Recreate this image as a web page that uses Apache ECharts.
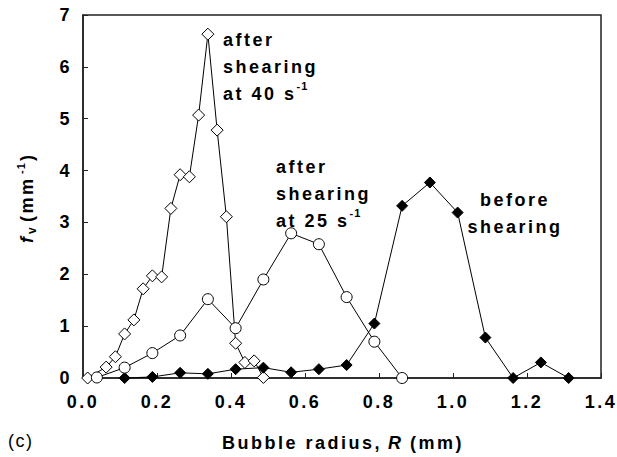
<!DOCTYPE html>
<html>
<head>
<meta charset="utf-8">
<script src="https://cdn.jsdelivr.net/npm/echarts@6/dist/echarts.min.js"></script>
<style>
html,body{margin:0;padding:0;background:#fff;}
#chart{width:617px;height:457px;}
#chart text{letter-spacing:2.5px;}
</style>
</head>
<body>
<div id="chart"></div>
<script>
// Bubble radius R (mm) and volume fraction density f_v (mm^-1)
const r40 = [0.0125, 0.0625, 0.0875, 0.1125, 0.1375, 0.1625, 0.1875, 0.2125, 0.2375, 0.2625, 0.2875, 0.3125, 0.3375, 0.3625, 0.3875, 0.4125, 0.4375, 0.4625, 0.4875];
const f40 = [0.00, 0.21, 0.41, 0.85, 1.12, 1.72, 1.97, 1.95, 3.27, 3.92, 3.88, 5.07, 6.63, 4.78, 3.11, 0.67, 0.30, 0.33, 0.01];
const r25 = [0.0375, 0.1125, 0.1875, 0.2625, 0.3375, 0.4125, 0.4875, 0.5625, 0.6375, 0.7125, 0.7875, 0.8625];
const f25 = [0.01, 0.20, 0.48, 0.82, 1.52, 0.96, 1.90, 2.79, 2.58, 1.56, 0.70, 0.00];
const r0 = [0.1125, 0.1875, 0.2625, 0.3375, 0.4125, 0.4875, 0.5625, 0.6375, 0.7125, 0.7875, 0.8625, 0.9375, 1.0125, 1.0875, 1.1625, 1.2375, 1.3125];
const f0 = [0.00, 0.02, 0.10, 0.08, 0.17, 0.20, 0.11, 0.17, 0.25, 1.05, 3.32, 3.77, 3.19, 0.78, 0.00, 0.30, 0.00];
const xTicks = [0.0, 0.2, 0.4, 0.6, 0.8, 1.0, 1.2, 1.4];
const yTicks = [0, 1, 2, 3, 4, 5, 6, 7];

const FONT = "'Liberation Sans', Arial, sans-serif";
const L = 2.5; // letter spacing px (applied via CSS to SVG text)
const zip = (xs, ys) => xs.map((x, i) => [x, ys[i]]);

const chart = echarts.init(document.getElementById('chart'), null, {renderer: 'svg'});
const axisCommon = {
  axisLine: {show: true, lineStyle: {color: '#222', width: 1.5}},
  axisTick: {show: true, inside: true, length: 5, lineStyle: {color: '#222', width: 1}},
  splitLine: {show: false}
};
const bold = 'bold 18px ' + FONT;
const txt = (o) => Object.assign({type: 'text', z: 100}, o);
const supRich = {sup: {fontFamily: FONT, fontWeight: 'bold', fontSize: 11, fill: '#000', color: '#000', verticalAlign: 'top', lineHeight: 14, padding: [0, 0, 0, 7 * L]}};
const R90 = Math.PI / 2;
const option = {
  animation: false,
  backgroundColor: '#fff',
  grid: {left: 83, right: 16, top: 15, bottom: 79, show: true, borderColor: '#222', borderWidth: 1.5, backgroundColor: 'transparent'},
  xAxis: Object.assign({
    type: 'value', min: xTicks[0], max: xTicks[xTicks.length - 1], interval: 0.2,
    axisLabel: {margin: 15, color: '#000', fontFamily: FONT, fontWeight: 'bold', fontSize: 18, formatter: v => v.toFixed(1)}
  }, axisCommon),
  yAxis: Object.assign({
    type: 'value', min: yTicks[0], max: yTicks[yTicks.length - 1], interval: 1,
    axisLabel: {margin: 11, color: '#000', fontFamily: FONT, fontWeight: 'bold', fontSize: 18}
  }, axisCommon),
  graphic: [
    // annotations
    txt({left: 223, top: 26, style: {text: 'after\nshearing\nat 40 s{sup|-1}', fill: '#000', font: bold, lineHeight: 27, rich: supRich}}),
    txt({left: 276, top: 153, style: {text: 'after\nshearing\nat 25 s{sup|-1}', fill: '#000', font: bold, lineHeight: 27, rich: supRich}}),
    txt({x: 515, y: 186, style: {text: 'before\nshearing', fill: '#000', font: bold, lineHeight: 27, align: 'center', verticalAlign: 'top'}}),
    // x axis title: Bubble radius, R (mm)
    txt({x: 222, y: 443, style: {text: 'Bubble radius,', fill: '#000', font: bold, align: 'left', verticalAlign: 'middle'}}),
    txt({x: 388, y: 443, style: {text: 'R', fill: '#000', font: 'italic bold 18px ' + FONT, align: 'left', verticalAlign: 'middle'}}),
    txt({x: 410, y: 443, style: {text: '(mm)', fill: '#000', font: bold, align: 'left', verticalAlign: 'middle'}}),
    // y axis title: f_v (mm^-1), rotated
    txt({x: 27, y: 243, rotation: R90, style: {text: 'f', fill: '#000', font: 'italic bold 18px ' + FONT, align: 'left', verticalAlign: 'middle'}}),
    txt({x: 32, y: 234, rotation: R90, style: {text: 'v', fill: '#000', font: 'bold 12px ' + FONT, align: 'left', verticalAlign: 'middle'}}),
    txt({x: 27, y: 222, rotation: R90, style: {text: '(mm', fill: '#000', font: bold, align: 'left', verticalAlign: 'middle'}}),
    txt({x: 21, y: 174, rotation: R90, style: {text: '-1', fill: '#000', font: 'bold 11px ' + FONT, align: 'left', verticalAlign: 'middle'}}),
    txt({x: 27, y: 161, rotation: R90, style: {text: ')', fill: '#000', font: bold, align: 'left', verticalAlign: 'middle'}}),
    // panel label
    txt({x: 8, y: 441, style: {text: '(c)', fill: '#000', font: '18px ' + FONT, align: 'left', verticalAlign: 'middle'}})
  ],
  series: [
    {
      name: 'after shearing at 40 s-1', type: 'line', data: zip(r40, f40), clip: false,
      symbol: 'diamond', symbolSize: 12, z: 3,
      lineStyle: {color: '#000', width: 1},
      itemStyle: {color: '#fff', borderColor: '#000', borderWidth: 1}
    },
    {
      name: 'before shearing', type: 'line', data: zip(r0, f0), clip: false,
      symbol: 'diamond', symbolSize: 11, z: 4,
      lineStyle: {color: '#000', width: 1},
      itemStyle: {color: '#000', borderColor: '#000', borderWidth: 1}
    },
    {
      name: 'after shearing at 25 s-1', type: 'line', data: zip(r25, f25), clip: false,
      symbol: 'circle', symbolSize: 11, z: 5,
      lineStyle: {color: '#000', width: 1},
      itemStyle: {color: '#fff', borderColor: '#000', borderWidth: 1}
    }
  ]
};
chart.setOption(option);
document.querySelectorAll('#chart text').forEach(t => {
  const c = t.textContent.trim();
  if (c === '(c)') t.style.letterSpacing = '1.5px';
  if (c === 'v' || c === '-1' || c === 'R') t.style.letterSpacing = '1px';
});
</script>
</body>
</html>
